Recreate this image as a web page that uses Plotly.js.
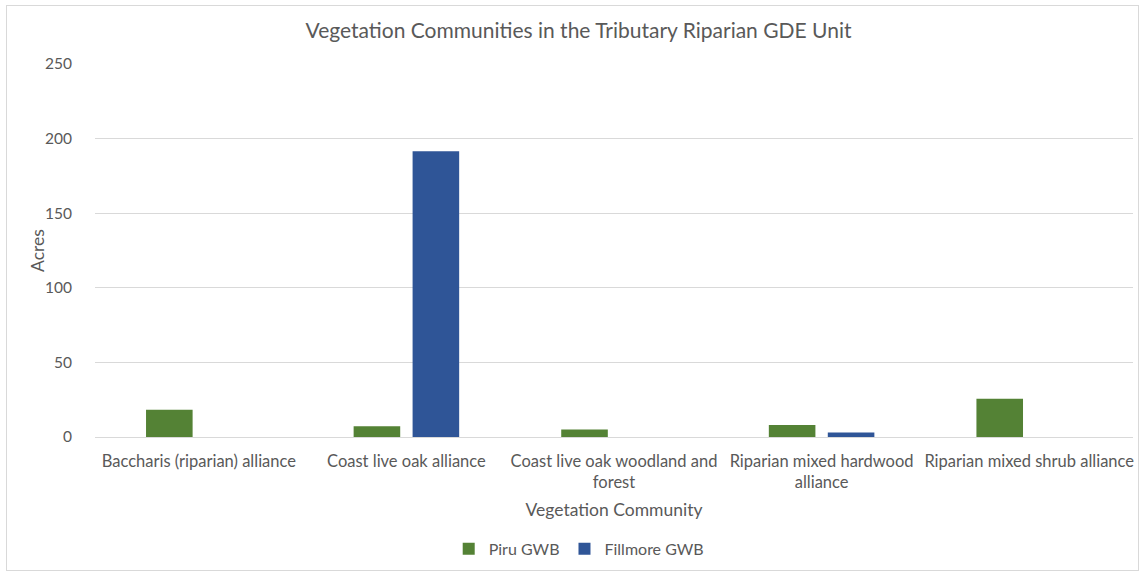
<!DOCTYPE html>
<html>
<head>
<meta charset="utf-8">
<script src="https://cdn.plot.ly/plotly-3.0.1.min.js"></script>
<style>
  html, body { margin: 0; padding: 0; background: #fff; }
  #chart { width: 1141px; height: 574px; }
  #frame { position: absolute; left: 6px; top: 5px; width: 1133px; height: 566px; border: 1px solid #D9D9D9; box-sizing: border-box; pointer-events: none; }
</style>
</head>
<body>
<div id="chart"></div>
<div id="frame"></div>
<script>
const categories = [
  "Baccharis (riparian) alliance",
  "Coast live oak alliance",
  "Coast live oak woodland and forest",
  "Riparian mixed hardwood alliance",
  "Riparian mixed shrub alliance"
];
const tickLabels = [
  "Baccharis (riparian) alliance",
  "Coast live oak alliance",
  "Coast live oak woodland and<br>forest",
  "Riparian mixed hardwood<br>alliance",
  "Riparian mixed shrub alliance"
];
const piruGWB = [18.3, 7.2, 5.0, 8.1, 25.6];
const fillmoreGWB = [0, 191.6, 0, 3.0, 0];
const yTicks = [0, 50, 100, 150, 200, 250];

const FONT = "Lato, 'Open Sans', sans-serif";
const GREY = "#595959";

const data = [
  { type: "bar", name: "Piru GWB", x: categories, y: piruGWB, marker: { color: "#548235" }, hoverinfo: "x+y+name" },
  { type: "bar", name: "Fillmore GWB", x: categories, y: fillmoreGWB, marker: { color: "#2F5597" }, hoverinfo: "x+y+name" }
];

const layout = {
  width: 1141,
  height: 574,
  paper_bgcolor: "#fff",
  plot_bgcolor: "#fff",
  font: { family: FONT, color: GREY, size: 16 },
  margin: { l: 95, r: 8, t: 64, b: 133, pad: 0 },
  barmode: "group",
  bargap: 0.432,
  bargroupgap: 0.21,
  title: {
    text: "Vegetation Communities in the Tributary Riparian GDE Unit",
    font: { family: FONT, size: 21, color: GREY },
    x: 0.507, xanchor: "center", y: 0.946, yanchor: "middle", yref: "container"
  },
  xaxis: {
    type: "category",
    tickmode: "array",
    tickvals: categories,
    ticktext: tickLabels,
    tickfont: { family: FONT, size: 16.5, color: GREY },
    showgrid: false,
    showline: true,
    linecolor: "#D9D9D9",
    linewidth: 1,
    ticks: "outside",
    ticklen: 9,
    tickcolor: "rgba(0,0,0,0)",
    automargin: false,
    title: { text: "Vegetation Community", font: { family: FONT, size: 17.5, color: GREY }, standoff: 12 }
  },
  yaxis: {
    range: [0, 250],
    tickmode: "array",
    tickvals: yTicks,
    ticktext: yTicks.map(String),
    tickfont: { family: FONT, size: 15.5, color: GREY },
    showgrid: true,
    gridcolor: "#D9D9D9",
    gridwidth: 1,
    zeroline: false,
    showline: false,
    ticks: "outside",
    ticklen: 19,
    tickcolor: "rgba(0,0,0,0)",
    automargin: false
  },
  annotations: [
    {
      text: "Acres",
      xref: "paper", yref: "paper",
      x: -0.0555, y: 0.5,
      xanchor: "center", yanchor: "middle",
      textangle: -90,
      showarrow: false,
      font: { family: FONT, size: 17.5, color: GREY }
    }
  ],
  showlegend: true,
  legend: {
    orientation: "h",
    x: 0.466, xanchor: "center",
    y: -0.3, yanchor: "middle",
    font: { family: FONT, size: 16, color: GREY },
    itemwidth: 30,
    traceorder: "normal"
  }
};

Plotly.newPlot("chart", data, layout, { displayModeBar: false, staticPlot: false });
</script>
</body>
</html>
